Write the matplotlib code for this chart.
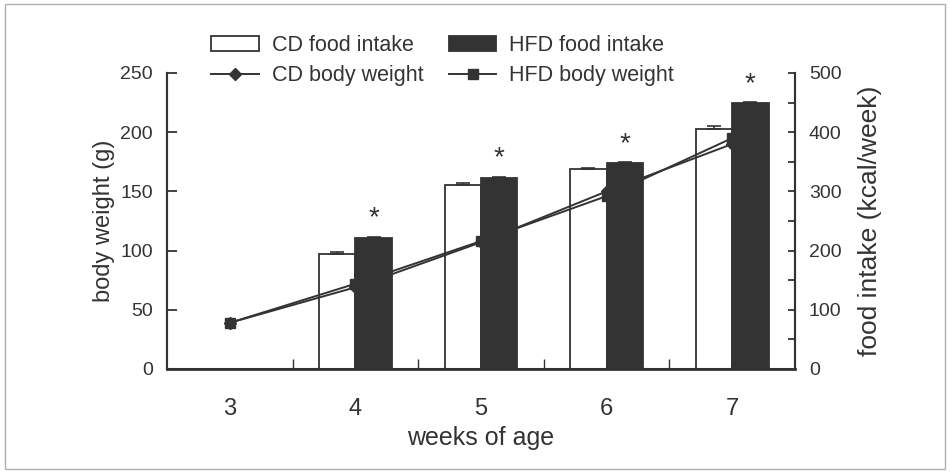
import numpy as np
import matplotlib
matplotlib.use("Agg")
import matplotlib.pyplot as plt
from matplotlib.patches import Rectangle
from matplotlib.ticker import MultipleLocator, FixedLocator

plt.rcParams.update({
    "font.family": ["Liberation Sans", "DejaVu Sans"],
    "text.color": "#333333",
    "axes.labelcolor": "#333333",
    "xtick.color": "#333333",
    "ytick.color": "#333333",
})

dark = '#333333'

weeks = [3, 4, 5, 6, 7]
bar_weeks = [4, 5, 6, 7]

# food intake (kcal/week), right axis
cd_intake = [195, 310, 338, 405]
cd_intake_err = [3, 3.5, 2, 6]
hfd_intake = [222, 322, 348, 449]
hfd_intake_err = [1.5, 3, 2, 2]

# body weight (g), left axis
cd_bw = [39, 69, 107, 150, 190]
hfd_bw = [39, 72, 108, 146, 195]

star_weeks = [4, 5, 6, 7]

fig = plt.figure(figsize=(9.5, 4.73), dpi=100)
fig.patches.append(Rectangle((0.005, 0.008), 0.99, 0.984, transform=fig.transFigure,
                             fill=False, edgecolor='#b0b0b0', linewidth=1.0))

ax = fig.add_axes([0.1758, 0.2199, 0.661, 0.6258])
ax2 = ax.twinx()
ax.set_zorder(ax2.get_zorder() + 1)
ax.patch.set_visible(False)

bw = 0.29
xb = np.array(bar_weeks, dtype=float)
ax2.bar(xb - bw / 2, cd_intake, bw, color='white', edgecolor=dark, linewidth=1.3, label='CD food intake')
ax2.bar(xb + bw / 2, hfd_intake, bw, color=dark, edgecolor=dark, linewidth=1.3, label='HFD food intake')
ax2.errorbar(xb - bw / 2, cd_intake, yerr=[np.zeros(4), cd_intake_err], fmt='none',
             ecolor=dark, elinewidth=1.2, capsize=5, capthick=1.2)
ax2.errorbar(xb + bw / 2, hfd_intake, yerr=[np.zeros(4), hfd_intake_err], fmt='none',
             ecolor=dark, elinewidth=1.2, capsize=5, capthick=1.2)

for w in star_weeks:
    i = bar_weeks.index(w)
    ax2.annotate('*', (w + bw / 2, hfd_intake[i] + hfd_intake_err[i]), xytext=(0, 13),
                 textcoords='offset points', ha='center', va='center', fontsize=20, color=dark)

ax.plot(weeks, cd_bw, color=dark, linewidth=1.4, marker='D', markersize=6, label='CD body weight')
ax.plot(weeks, hfd_bw, color=dark, linewidth=1.4, marker='s', markersize=6.5, label='HFD body weight')

ax.set_xlim(2.5, 7.5)
ax.set_ylim(0, 250)
ax2.set_ylim(0, 500)

ax.set_xticks(weeks)
ax.xaxis.set_minor_locator(FixedLocator([3.5, 4.5, 5.5, 6.5]))
ax.tick_params(axis='x', which='major', length=0, pad=21, labelsize=17)
ax.tick_params(axis='x', which='minor', direction='in', length=7, width=1)
ax.yaxis.set_major_locator(MultipleLocator(50))
ax.tick_params(axis='y', direction='in', length=7, width=1.3, pad=10, labelsize=14)

ax2.yaxis.set_major_locator(MultipleLocator(100))
ax2.yaxis.set_minor_locator(MultipleLocator(50))
ax2.tick_params(axis='y', which='both', direction='in', length=5, width=1.3, pad=10, labelsize=14)
ax2.tick_params(axis='x', which='both', length=0)

for a in (ax, ax2):
    a.spines['top'].set_visible(False)
    for s in ('left', 'right', 'bottom'):
        a.spines[s].set_color(dark)
        a.spines[s].set_linewidth(1.5)
ax.spines['bottom'].set_linewidth(2)

ax.set_xlabel('weeks of age', fontsize=18, labelpad=4)
ax.set_ylabel('body weight (g)', fontsize=17, labelpad=4)
ax2.set_ylabel('food intake (kcal/week)', fontsize=19, labelpad=12)

h1, l1 = ax2.get_legend_handles_labels()
h2, l2 = ax.get_legend_handles_labels()
handles = [h1[0], h2[0], h1[1], h2[1]]
labels = [l1[0], l2[0], l1[1], l2[1]]
fig.legend(handles, labels, loc='center', bbox_to_anchor=(0.466, 0.872), ncol=2,
           frameon=False, fontsize=15.5, handlelength=2.2, handleheight=0.7,
           handletextpad=0.6, columnspacing=1.2, labelspacing=0.45, borderpad=0)

fig.savefig('out.png', dpi=100)
